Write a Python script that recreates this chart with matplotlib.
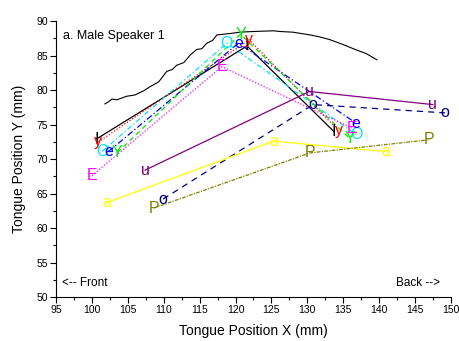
import matplotlib.pyplot as plt
from matplotlib.ticker import MultipleLocator

plt.rcParams['font.family'] = ['Liberation Sans', 'DejaVu Sans']

# vowel trajectories: front point, peak, back point
labels = ['I', 'y', 'O', 'e', 'Y', 'E', 'u', 'o', 'a', 'P']
colors = ['black', '#ff0000', '#00e5ff', '#0000ff', '#00ee00', '#ff00ff',
          '#800080', '#000080', '#ffff00', '#808000']
styles = ['-', (0, (1, 1.5)), (0, (4, 2, 1, 2)), (0, (5, 2, 1, 2)), (0, (4, 3)),
          (0, (1, 1.5)), '-', (0, (5, 4)), '-', (0, (3, 1, 1, 1))]

traj_x = [
    [100.6, 121.6, 133.7],
    [100.9, 121.9, 134.4],
    [101.4, 118.8, 136.9],
    [102.3, 120.4, 136.8],
    [103.5, 120.7, 135.9],
    [100.0, 118.1, 136.2],
    [107.4, 130.3, 147.5],
    [109.9, 130.8, 149.2],
    [102.1, 125.3, 140.9],
    [108.6, 130.4, 147.0],
]
traj_y = [
    [72.9, 86.4, 74.0],
    [72.5, 87.3, 74.1],
    [71.1, 86.8, 73.5],
    [71.1, 86.8, 75.2],
    [70.9, 88.1, 73.0],
    [67.6, 83.4, 74.5],
    [68.4, 79.8, 77.9],
    [64.2, 77.9, 76.7],
    [63.7, 72.6, 71.1],
    [62.9, 70.9, 72.8],
]

# palate outline
palate_x = [101.8, 102.3, 102.8, 103.5, 104.8, 106.0, 107.2, 108.1, 109.3,
            110.4, 111.2, 111.8, 112.8, 113.7, 114.6, 115.3, 116.0, 116.8,
            117.4, 119.2, 120.6, 122.5, 125.3, 126.2, 128.0, 130.4, 131.8,
            133.2, 135.0, 136.9, 138.2, 139.7]
palate_y = [78.0, 78.3, 78.7, 78.6, 79.1, 79.3, 79.9, 80.5, 81.2,
            82.7, 83.0, 83.6, 84.0, 85.1, 85.9, 86.0, 86.8, 87.2,
            88.0, 88.2, 88.4, 88.5, 88.6, 88.5, 88.4, 88.0, 87.7,
            87.3, 86.6, 85.8, 85.3, 84.4]

fig = plt.figure(figsize=(4.6, 3.41), dpi=100)
ax = fig.add_axes([0.122, 0.129, 0.858, 0.809])

ax.plot(palate_x, palate_y, color='black', lw=0.8)

for lab, c, ls, xs, ys in zip(labels, colors, styles, traj_x, traj_y):
    ax.plot(xs, ys, color=c, ls=ls, lw=0.9)
    for x, y in zip(xs, ys):
        ax.text(x, y, lab, color=c, fontsize=11.5, ha='center', va='center')

ax.set_xlim(95, 150)
ax.set_ylim(50, 90)
ax.xaxis.set_major_locator(MultipleLocator(5))
ax.xaxis.set_minor_locator(MultipleLocator(2.5))
ax.yaxis.set_major_locator(MultipleLocator(5))
ax.yaxis.set_minor_locator(MultipleLocator(2.5))
ax.tick_params(which='major', direction='out', length=4, width=0.8, labelsize=7.5, pad=2)
ax.tick_params(which='minor', direction='out', length=2.5, width=0.8)
ax.spines['top'].set_visible(False)
ax.spines['right'].set_visible(False)

ax.set_xlabel('Tongue Position X (mm)', fontsize=10, labelpad=6)
ax.set_ylabel('Tongue Position Y (mm)', fontsize=10, labelpad=7)

ax.text(96.0, 87.9, 'a. Male Speaker 1', fontsize=9, ha='left', va='center')
ax.text(95.8, 52.0, '<-- Front', fontsize=8.5, ha='left', va='center')
ax.text(148.5, 52.0, 'Back -->', fontsize=8.5, ha='right', va='center')

fig.savefig('out.png', dpi=100)
